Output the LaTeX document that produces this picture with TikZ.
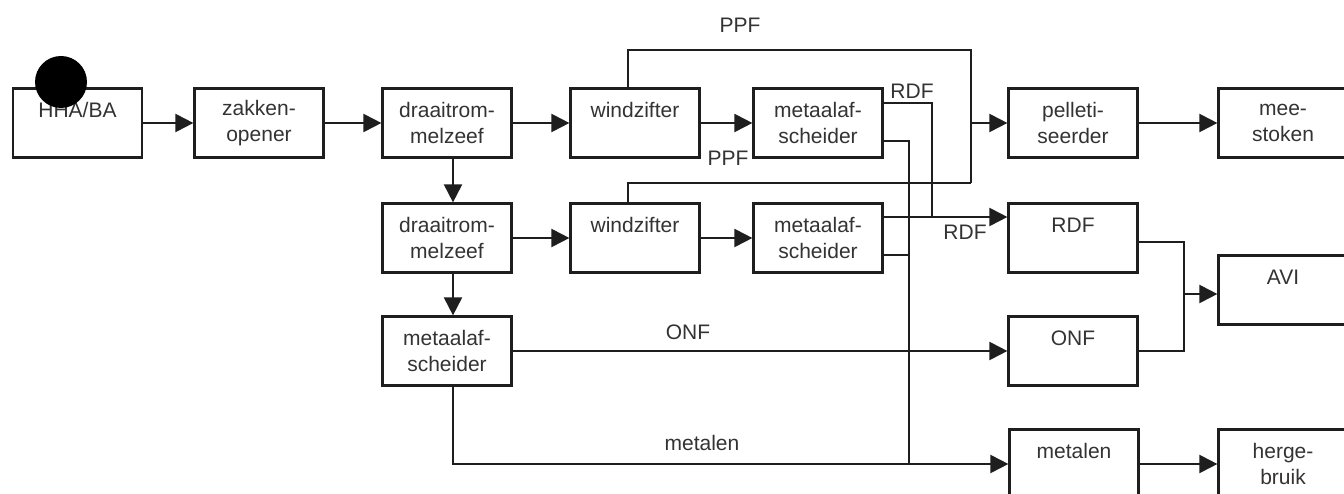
\documentclass[tikz,border=0pt]{standalone}
\usepackage{fontspec}
\setmainfont{Liberation Sans}
\usetikzlibrary{arrows.meta}
\definecolor{ink}{HTML}{1E1E1E}
\definecolor{txt}{HTML}{333333}
\begin{document}
\begin{tikzpicture}[x=1pt,y=-1pt,
  every node/.style={text=txt,font=\fontsize{21}{26}\selectfont},
  procbox/.style={draw=ink,line width=2.2pt,minimum width=129pt,minimum height=69pt,inner sep=0pt,align=center},
  flow/.style={draw=ink,line width=2pt},
  arr/.style={flow,-{Triangle[length=18pt,width=18pt]}},
  tag/.style={inner sep=0pt}]
\clip (0,0) rectangle (1344,494);
\fill[white] (0,0) rectangle (1344,494);

% first line
\node[procbox] (hha) at (77.5,123) {HHA/BA\\\mbox{}};
\node[procbox] (zak) at (259,123) {zakken-\\opener};
\node[procbox] (dr1) at (447,123) {draaitrom-\\melzeef};
\node[procbox] (w1) at (635,123) {windzifter\\\mbox{}};
\node[procbox] (m1) at (818,123) {metaalaf-\\scheider};
\node[procbox] (pel) at (1073,123) {pelleti-\\seerder};
\node[procbox] (mee) at (1283,123) {mee-\\stoken};

% second line
\node[procbox] (dr2) at (447,238) {draaitrom-\\melzeef};
\node[procbox] (w2) at (635,238) {windzifter\\\mbox{}};
\node[procbox] (m2) at (818,238) {metaalaf-\\scheider};
\node[procbox] (rdf) at (1073,238) {RDF\\\mbox{}};
\node[procbox] (avi) at (1283,290) {AVI\\\mbox{}};

% third and fourth line
\node[procbox] (m3) at (447,351) {metaalaf-\\scheider};
\node[procbox] (onf) at (1073,351) {ONF\\\mbox{}};
\node[procbox] (met) at (1074,464) {metalen\\\mbox{}};
\node[procbox] (her) at (1283,464) {herge-\\bruik};

% junctions
\coordinate (ppfR) at (971,50);
\coordinate (ppfB) at (971,183);
\coordinate (rdfj) at (932,217);
\coordinate (metj) at (909,464);
\coordinate (avij) at (1184,294);

% main line
\draw[arr] (hha) -- (zak);
\draw[arr] (zak) -- (dr1);
\draw[arr] (dr1) -- (w1);
\draw[arr] (w1) -- (m1);
\draw[arr] ([xshift=6pt]dr1.south) -- ([xshift=6pt]dr2.north);
\draw[arr] (dr2) -- (w2);
\draw[arr] (w2) -- (m2);
\draw[arr] ([xshift=6pt]dr2.south) -- ([xshift=6pt]m3.north);

% PPF
\draw[flow] ([xshift=-7pt]w1.north) |- (ppfR) -- (ppfB);
\draw[flow] ([xshift=-7pt]w2.north) |- (ppfB);
\draw[arr] (ppfB |- pel) -- (pel.west);
\draw[arr] (pel) -- (mee);

% RDF
\draw[flow] ([yshift=20pt]m1.east) -| (rdfj);
\draw[flow] ([yshift=21pt]m2.east) -- (rdfj);
\draw[arr] (rdfj) -- (rdfj -| rdf.west);

% metals
\draw[flow] ([yshift=-18pt]m1.east) -| (metj);
\draw[flow] ([yshift=-17pt]m2.east) -| (metj);
\draw[arr] ([xshift=6pt]m3.south) |- (met.west);
\draw[arr] (met) -- (her);

% ONF
\draw[arr] (m3.east) -- (m3.east -| onf.west);

% to AVI
\draw[flow] ([yshift=-4pt]rdf.east) -| (avij);
\draw[flow] (onf.east) -| (avij);
\draw[arr] (avij) -- (avij -| avi.west);

% stream labels
\node[tag] (lppf1) at (740,25) {PPF};
\node[tag] (lppf2) at (728,158) {PPF};
\node[tag] (lrdf1) at (912,91) {RDF};
\node[tag] (lrdf2) at (965,232) {RDF};
\node[tag] (lonf) at (688,332) {ONF};
\node[tag] (lmet) at (702,443) {metalen};

% black dot
\fill[black] (61,82) circle (26pt);
\end{tikzpicture}
\end{document}
